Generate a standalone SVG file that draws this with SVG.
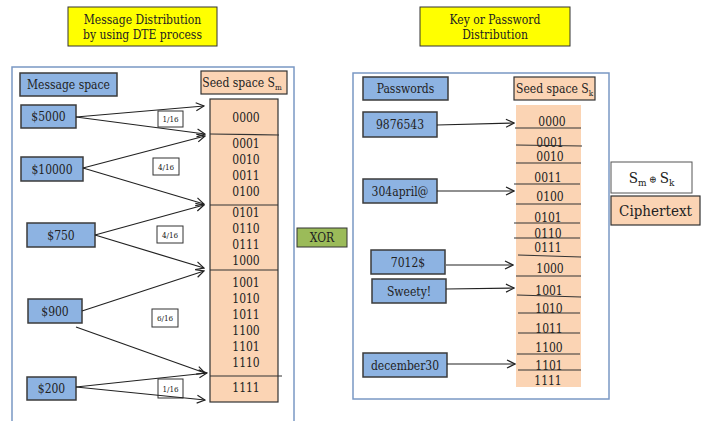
<svg xmlns="http://www.w3.org/2000/svg" width="706" height="421" viewBox="0 0 706 421" font-family="'DejaVu Serif Condensed', 'DejaVu Serif', serif">
  <defs>
    <marker id="arr" markerWidth="10" markerHeight="10" refX="9" refY="5" orient="auto" markerUnits="userSpaceOnUse">
      <path d="M1,1 L9,5 L1,9" fill="none" stroke="#222" stroke-width="1.2"/>
    </marker>
    <style>
      text { font-family: 'DejaVu Serif Condensed', 'DejaVu Serif', serif; font-stretch: condensed; fill: #222; text-anchor: middle; }
      .panel { fill: #fff; stroke: #7a98c4; stroke-width: 1.5; }
      .title { fill: #ffff00; stroke: #333; stroke-width: 1; }
      .blue { fill: #8db3e2; stroke: #3b3b3b; stroke-width: 1.5; }
      .peach { fill: #fbd4b4; stroke: #333; stroke-width: 1.2; }
      .seed { fill: #fbd4b4; stroke: none; }
      .frac { fill: #fff; stroke: #333; stroke-width: 1; }
      .div { stroke: #333; stroke-width: 1.2; fill: none; }
      .conn line { stroke: #222; stroke-width: 1.2; marker-end: url(#arr); }
      .lbl { font-size: 12px; }
      .num { font-size: 12px; }
      .small { font-size: 8px; }
    </style>
  </defs>

  <rect width="706" height="421" fill="#fff"/>

  <!-- titles -->
  <g id="title-message">
    <rect class="title" x="68" y="7" width="149" height="39"/>
    <text class="num" x="142.5" y="24">Message Distribution</text>
    <text class="num" x="142.5" y="39">by using DTE process</text>
  </g>
  <g id="title-key">
    <rect class="title" x="420" y="7" width="150" height="39"/>
    <text class="num" x="495" y="24">Key or Password</text>
    <text class="num" x="495" y="39">Distribution</text>
  </g>

  <!-- left panel: message distribution -->
  <rect class="panel" x="12" y="67" width="282" height="360"/>

  <g id="message-space">
    <rect class="blue" x="20" y="73" width="97" height="23"/>
    <text class="lbl" x="68.5" y="89">Message space</text>
  </g>
  <g id="seed-space-m">
    <rect class="peach" x="201" y="71" width="86" height="23"/>
    <text class="lbl" x="242" y="87">Seed space S<tspan font-size="8" dy="3">m</tspan></text>
  </g>

  <g id="seed-column-m">
    <rect class="peach" x="210" y="99" width="68" height="303"/>
    <path class="div" d="M210,134 L279,135 M210,205 L278,205 M210,270 L278,270 M210,376 L282,376"/>
    <g class="num">
      <text x="246" y="122">0000</text>
      <text x="246" y="148">0001</text>
      <text x="246" y="164">0010</text>
      <text x="246" y="180">0011</text>
      <text x="246" y="196">0100</text>
      <text x="246" y="217">0101</text>
      <text x="246" y="233">0110</text>
      <text x="246" y="249">0111</text>
      <text x="246" y="265">1000</text>
      <text x="246" y="287">1001</text>
      <text x="246" y="303">1010</text>
      <text x="246" y="319">1011</text>
      <text x="246" y="335">1100</text>
      <text x="246" y="351">1101</text>
      <text x="246" y="367">1110</text>
      <text x="246" y="392">1111</text>
    </g>
  </g>

  <g id="msg-5000">
    <rect class="blue" x="21" y="105" width="55" height="23"/>
    <text class="num" x="48.5" y="121">$5000</text>
  </g>
  <g id="msg-10000">
    <rect class="blue" x="21" y="157" width="62" height="24"/>
    <text class="num" x="52" y="173.5">$10000</text>
  </g>
  <g id="msg-750">
    <rect class="blue" x="27" y="223" width="68" height="24"/>
    <text class="num" x="61" y="239.5">$750</text>
  </g>
  <g id="msg-900">
    <rect class="blue" x="28" y="299" width="54" height="24"/>
    <text class="num" x="55" y="315.5">$900</text>
  </g>
  <g id="msg-200">
    <rect class="blue" x="27" y="377" width="49" height="23"/>
    <text class="num" x="51.5" y="393">$200</text>
  </g>

  <g id="frac-1">
    <rect class="frac" x="158" y="111" width="25" height="16"/>
    <text class="small" x="170.5" y="122">1/16</text>
  </g>
  <g id="frac-2">
    <rect class="frac" x="153" y="158" width="26" height="17"/>
    <text class="small" x="166" y="169.5">4/16</text>
  </g>
  <g id="frac-3">
    <rect class="frac" x="157" y="226" width="26" height="17"/>
    <text class="small" x="170" y="237.5">4/16</text>
  </g>
  <g id="frac-4">
    <rect class="frac" x="152" y="309" width="26" height="18"/>
    <text class="small" x="165" y="321">6/16</text>
  </g>
  <g id="frac-5">
    <rect class="frac" x="158" y="379" width="25" height="19"/>
    <text class="small" x="170.5" y="392">1/16</text>
  </g>

  <!-- XOR operator -->
  <g id="xor">
    <rect x="297" y="228" width="50" height="19" fill="#9bbb59" stroke="#333" stroke-width="1"/>
    <text class="num" x="322" y="242">XOR</text>
  </g>

  <!-- right panel: key distribution -->
  <rect class="panel" x="353" y="73" width="256" height="326"/>

  <g id="passwords">
    <rect class="blue" x="363" y="77" width="85" height="23"/>
    <text class="lbl" x="405.5" y="93">Passwords</text>
  </g>
  <g id="seed-space-k">
    <rect class="peach" x="514" y="77" width="81" height="23"/>
    <text class="num" x="554.5" y="93">Seed space S<tspan font-size="8" dy="3">k</tspan></text>
  </g>

  <g id="seed-column-k">
    <rect class="seed" x="516" y="105" width="65" height="282"/>
    <path class="div" d="M515,128 L581,128 M516,145 L582,146 M516,163 L581,163 M514,184 L580,184 M516,204 L581,204 M514,223 L580,223 M514,238 L580,238 M518,255 L581,257 M516,276 L581,276 M517,295 L581,297 M518,313 L580,313 M518,333 L580,333 M517,354 L580,354 M518,370 L581,370"/>
    <g class="num">
      <text x="552" y="126">0000</text>
      <text x="550" y="147">0001</text>
      <text x="550" y="161">0010</text>
      <text x="548" y="182">0011</text>
      <text x="550" y="201">0100</text>
      <text x="548" y="222">0101</text>
      <text x="548" y="238">0110</text>
      <text x="548" y="252">0111</text>
      <text x="550" y="273">1000</text>
      <text x="549" y="295">1001</text>
      <text x="549" y="313">1010</text>
      <text x="549" y="333">1011</text>
      <text x="549" y="352">1100</text>
      <text x="549" y="370">1101</text>
      <text x="548" y="385">1111</text>
    </g>
  </g>

  <g id="pw-9876543">
    <rect class="blue" x="363" y="112" width="74" height="25"/>
    <text class="num" x="400" y="129">9876543</text>
  </g>
  <g id="pw-304april">
    <rect class="blue" x="363" y="179" width="74" height="24"/>
    <text class="num" x="400" y="195.5">304april@</text>
  </g>
  <g id="pw-7012">
    <rect class="blue" x="371" y="250" width="74" height="24"/>
    <text class="num" x="408" y="266.5">7012$</text>
  </g>
  <g id="pw-sweety">
    <rect class="blue" x="372" y="279" width="74" height="24"/>
    <text class="num" x="409" y="295.5">Sweety!</text>
  </g>
  <g id="pw-december30">
    <rect class="blue" x="363" y="353" width="84" height="24"/>
    <text class="num" x="405" y="369.5">december30</text>
  </g>

  <!-- result -->
  <g id="xor-result">
    <rect x="611" y="162" width="81" height="31" fill="#fff" stroke="#555" stroke-width="1"/>
    <text x="651.5" y="183" font-size="15">S<tspan font-size="10" dy="3">m</tspan><tspan font-size="10" dy="-3"> ⊕ </tspan>S<tspan font-size="10" dy="3">k</tspan></text>
  </g>
  <g id="ciphertext">
    <rect class="peach" x="611" y="196" width="89" height="29"/>
    <text x="655.5" y="216" font-size="15">Ciphertext</text>
  </g>

  <!-- connectors -->
  <g id="connectors" class="conn">
    <line x1="76" y1="117" x2="204" y2="106"/>
    <line x1="76" y1="117" x2="205" y2="134"/>
    <line x1="83" y1="168" x2="205" y2="136"/>
    <line x1="83" y1="168" x2="204" y2="204"/>
    <line x1="95" y1="235" x2="204" y2="205"/>
    <line x1="95" y1="235" x2="204" y2="268"/>
    <line x1="82" y1="311" x2="204" y2="271"/>
    <line x1="76" y1="327" x2="205" y2="373"/>
    <line x1="76" y1="387" x2="207" y2="373"/>
    <line x1="76" y1="387" x2="205" y2="400"/>
    <line x1="437" y1="125" x2="514" y2="123"/>
    <line x1="437" y1="191" x2="514" y2="191"/>
    <line x1="446" y1="265" x2="513" y2="265"/>
    <line x1="446" y1="289" x2="514" y2="288"/>
    <line x1="447" y1="364" x2="515" y2="364"/>
  </g>
</svg>
